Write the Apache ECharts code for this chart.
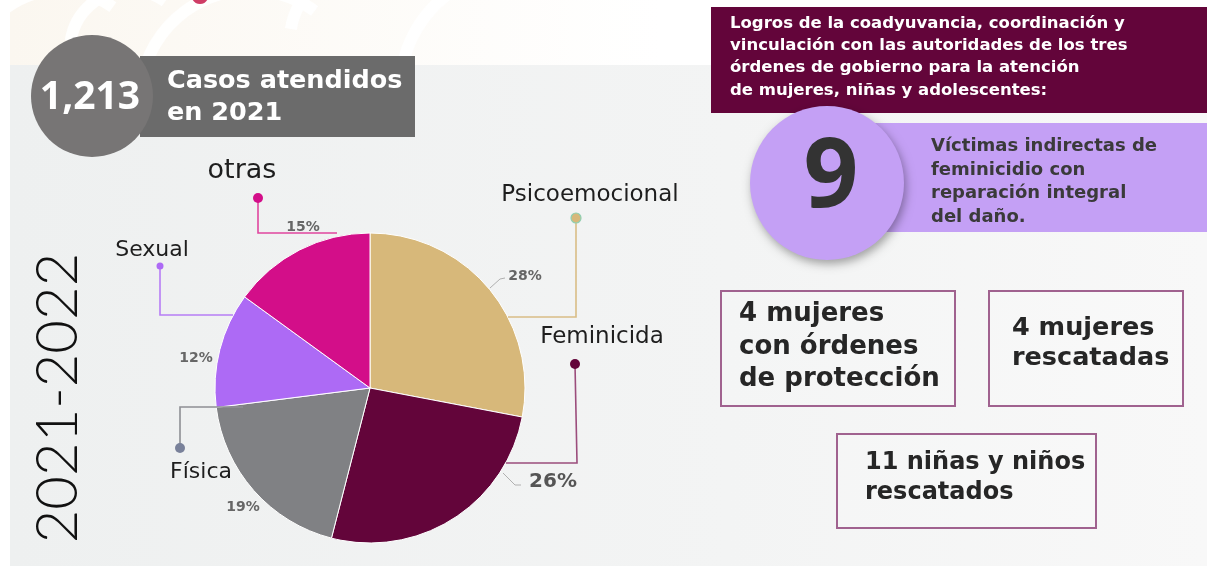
<!DOCTYPE html>
<html>
<head>
<meta charset="utf-8">
<script src="https://cdn.jsdelivr.net/npm/echarts@6/dist/echarts.min.js"></script>
<style>
html,body{margin:0;padding:0;background:#ffffff;}
#chart{width:1207px;height:573px;}
</style>
</head>
<body>
<div id="chart"></div>
<script>
// ---- data ----
const categories = ['Psicoemocional', 'Feminicida', 'Física', 'Sexual', 'otras'];
const values = [28, 26, 19, 12, 15];
const sliceColors = ['#d7b87a', '#63053a', '#808184', '#ad6af5', '#d30e89'];
const dotColors = ['#d7b87a', '#63053a', '#79819a', '#ad6af5', '#d30e89'];
const totalCases = '1,213';
const totalCasesLabel = 'Casos atendidos\nen 2021';
const periodLabel = '2021-2022';
const headerText = 'Logros de la coadyuvancia, coordinación y\nvinculación con las autoridades de los tres\nórdenes de gobierno para la atención\nde mujeres, niñas y adolescentes:';
const victimsCount = '9';
const victimsText = 'Víctimas indirectas de\nfeminicidio con\nreparación integral\ndel daño.';
const boxTexts = ['4 mujeres\ncon órdenes\nde protección', '4 mujeres\nrescatadas', '11 niñas y niños\nrescatados'];

// ---- layout (positions / styles, not data) ----
const F = '"Open Sans", "Noto Sans", sans-serif';
const D = '"DejaVu Sans", sans-serif';
const pieCenter = [370, 388];
const pieRadius = 155;
const pctLabelPos = [[525, 276], [553, 482], [243, 507], [196, 358], [303, 227]];
const pctLabelSize = [14, 20, 14, 14, 14];
// callouts: name position, dot, polyline
const callouts = [
  { name: [590, 195], size: 23, pts: [[576, 218], [576, 317], [508, 317]] },
  { name: [602, 337], size: 23, pts: [[575, 364], [577, 463], [506, 463]] },
  { name: [201, 472], size: 22, pts: [[180, 448], [180, 407], [243, 407]] },
  { name: [152, 250], size: 22, pts: [[160, 266], [160, 315], [233, 315]] },
  { name: [242, 171], size: 27, pts: [[258, 198], [258, 233], [337, 233]] }
];
const calloutLineColors = ['#d9bd86', '#9b4d7c', '#8e8f94', '#b77df5', '#e0469f'];

const chart = echarts.init(document.getElementById('chart'), null, { renderer: 'canvas' });

const graphics = [];
// background panel
graphics.push({
  type: 'rect', z: -10, silent: true,
  shape: { x: 10, y: 65, width: 1197, height: 501 },
  style: { fill: new echarts.graphic.LinearGradient(0, 0, 1, 0, [
    { offset: 0, color: '#eef0f0' }, { offset: 0.6, color: '#f3f4f4' }, { offset: 1, color: '#f8f8f8' }]) }
});
// faint watermark swirls at top
graphics.push({ type: 'rect', z: -12, silent: true, shape: { x: 10, y: 0, width: 650, height: 65 },
  style: { fill: new echarts.graphic.LinearGradient(0, 0, 1, 0, [{ offset: 0, color: '#fbf7f0' }, { offset: 1, color: '#ffffff' }]) } });
[[60, 80, 90], [130, 50, 60], [250, 100, 110], [360, 40, 70], [520, 90, 120]].forEach(function (a) {
  graphics.push({
    type: 'arc', z: -11, silent: true,
    shape: { cx: a[0], cy: a[1], r: a[2], startAngle: Math.PI * 1.05, endAngle: Math.PI * 1.7 },
    style: { stroke: 'rgba(255,255,255,0.9)', lineWidth: 12, fill: null }
  });
});
graphics.push({ type: 'ellipse', z: -9, shape: { cx: 200, cy: -3, rx: 8, ry: 7 }, style: { fill: '#cf3d66' } });

// header left
graphics.push({ type: 'rect', z: 1, shape: { x: 140, y: 56, width: 275, height: 81 }, style: { fill: '#6b6b6b' } });
graphics.push({ type: 'circle', z: 2, shape: { cx: 92, cy: 96, r: 61 }, style: { fill: '#777575' } });
graphics.push({ type: 'text', z: 3, x: 90, y: 98, style: { text: totalCases, fill: '#ffffff', font: 'bold 39px ' + F, align: 'center', verticalAlign: 'middle' } });
graphics.push({ type: 'text', z: 3, x: 167, y: 97, style: { text: totalCasesLabel, fill: '#ffffff', font: 'bold 25.5px ' + D, lineHeight: 32, align: 'left', verticalAlign: 'middle' } });

// vertical period text
graphics.push({ type: 'text', z: 3, x: 58, y: 398, rotation: Math.PI / 2, style: { text: periodLabel, fill: '#111111', font: '300 58px Lato, ' + F, align: 'center', verticalAlign: 'middle' } });

// header right
graphics.push({ type: 'rect', z: 1, shape: { x: 711, y: 7, width: 496, height: 106 }, style: { fill: '#63053a' } });
graphics.push({ type: 'text', z: 3, x: 730, y: 57, style: { text: headerText, fill: '#ffffff', font: 'bold 16.5px ' + D, lineHeight: 22.3, align: 'left', verticalAlign: 'middle' } });
graphics.push({ type: 'rect', z: 1, shape: { x: 840, y: 123, width: 367, height: 109 }, style: { fill: '#c4a0f5' } });
graphics.push({ type: 'circle', z: 2, shape: { cx: 827, cy: 183, r: 77 }, style: { fill: '#c4a0f5', shadowBlur: 10, shadowOffsetX: 2, shadowOffsetY: 4, shadowColor: 'rgba(0,0,0,0.35)' } });
graphics.push({ type: 'text', z: 3, x: 831, y: 180, style: { text: victimsCount, fill: '#333333', font: 'bold 96px ' + F, align: 'center', verticalAlign: 'middle' } });
graphics.push({ type: 'text', z: 3, x: 931, y: 182, style: { text: victimsText, fill: '#3a3a3a', font: 'bold 18px ' + D, lineHeight: 23.5, align: 'left', verticalAlign: 'middle' } });

// boxes
const boxRects = [[721, 291, 234, 115], [989, 291, 194, 115], [837, 434, 259, 94]];
const boxTextPos = [[739, 347, 32.5, 26], [1012, 343, 30, 25.5], [865, 478, 29.5, 24]];
boxRects.forEach(function (b, i) {
  graphics.push({ type: 'rect', z: 1, shape: { x: b[0], y: b[1], width: b[2], height: b[3] }, style: { fill: 'rgba(255,255,255,0.15)', stroke: '#a0628f', lineWidth: 2 } });
  graphics.push({ type: 'text', z: 3, x: boxTextPos[i][0], y: boxTextPos[i][1], style: { text: boxTexts[i], fill: '#262626', font: 'bold ' + boxTextPos[i][3] + 'px ' + D, lineHeight: boxTextPos[i][2], align: 'left', verticalAlign: 'middle' } });
});

// callouts
callouts.forEach(function (c, i) {
  graphics.push({ type: 'polyline', z: 5, shape: { points: c.pts }, style: { stroke: calloutLineColors[i], lineWidth: 1.6, fill: null } });
  graphics.push({ type: 'circle', z: 6, shape: { cx: c.pts[0][0], cy: c.pts[0][1], r: i === 3 ? 3.5 : 5 }, style: { fill: dotColors[i], stroke: i === 0 ? '#8fcfb0' : null, lineWidth: 1.2 } });
  graphics.push({ type: 'text', z: 6, x: c.name[0], y: c.name[1], style: { text: categories[i], fill: '#1e1e1e', font: 'normal ' + c.size + 'px ' + D, align: 'center', verticalAlign: 'middle' } });
});
// small gray leaders for two percent labels
graphics.push({ type: 'polyline', z: 5, shape: { points: [[490, 288], [500, 279], [505, 278]] }, style: { stroke: '#b0b0b0', lineWidth: 1, fill: null } });
graphics.push({ type: 'polyline', z: 5, shape: { points: [[503, 473], [515, 485], [521, 485]] }, style: { stroke: '#b0b0b0', lineWidth: 1, fill: null } });

const pieData = categories.map(function (name, i) {
  return {
    name: name, value: values[i],
    itemStyle: { color: sliceColors[i] },
    label: { fontSize: pctLabelSize[i], color: i === 1 ? '#555555' : '#666666' }
  };
});

chart.setOption({
  backgroundColor: 'transparent',
  animation: false,
  graphic: { elements: graphics },
  series: [{
    type: 'pie',
    center: pieCenter,
    radius: pieRadius,
    startAngle: 90,
    clockwise: true,
    z: 3,
    data: pieData,
    itemStyle: { borderColor: '#ffffff', borderWidth: 1 },
    label: {
      show: true, position: 'outside', formatter: '{d}%',
      fontFamily: D, fontWeight: 'bold'
    },
    labelLine: { show: false },
    labelLayout: function (p) {
      const pos = pctLabelPos[p.dataIndex];
      return { x: pos[0], y: pos[1], align: 'center', verticalAlign: 'middle' };
    },
    emphasis: { disabled: true }
  }]
});
</script>
</body>
</html>
